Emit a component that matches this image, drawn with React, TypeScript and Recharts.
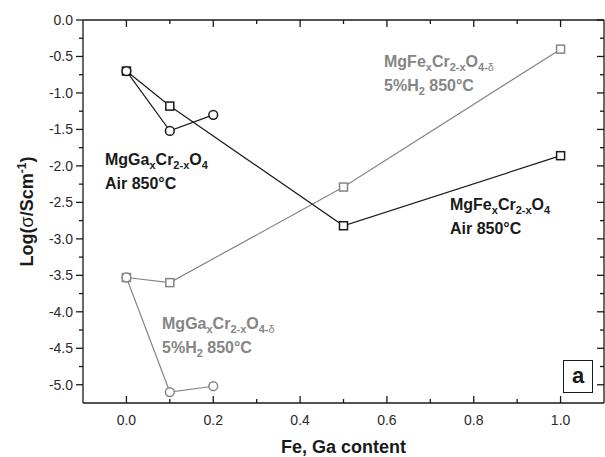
import React from 'react';
import { LineChart, Line, XAxis, YAxis, ReferenceDot } from 'recharts';

// Fe / Ga content on x, log conductivity on y
const feAirX = [0, 0.1, 0.5, 1.0];
const feAirY = [-0.7, -1.18, -2.82, -1.86];
const gaAirX = [0, 0.1, 0.2];
const gaAirY = [-0.7, -1.52, -1.3];
const feH2X = [0, 0.1, 0.5, 1.0];
const feH2Y = [-3.53, -3.6, -2.29, -0.4];
const gaH2X = [0, 0.1, 0.2];
const gaH2Y = [-3.53, -5.1, -5.02];

const xTicks = [0, 0.1, 0.2, 0.3, 0.4, 0.5, 0.6, 0.7, 0.8, 0.9, 1.0];
const yTicks = [0, -0.25, -0.5, -0.75, -1.0, -1.25, -1.5, -1.75, -2.0, -2.25, -2.5, -2.75, -3.0, -3.25, -3.5, -3.75, -4.0, -4.25, -4.5, -4.75, -5.0];

const BLACK = '#1a1a1a';
const GRAY = '#858585';
const FONT = '"Liberation Sans", Arial, sans-serif';

const zip = (xs: number[], ys: number[]) => xs.map((x, i) => ({ x, y: ys[i] }));

const feAir = zip(feAirX, feAirY);
const gaAir = zip(gaAirX, gaAirY);
const feH2 = zip(feH2X, feH2Y);
const gaH2 = zip(gaH2X, gaH2Y);

const isMajor = (v: number) => Math.round(Math.abs(v) * 100) % 50 === 0;
const isMajorX = (v: number) => Math.round(v * 10) % 2 === 0;

const BottomTick = ({ x, y, payload }: any) => {
    const major = isMajorX(payload.value);
    return (
        <g>
            <line x1={x} x2={x} y1={y} y2={y - (major ? 7 : 4)} stroke={BLACK} strokeWidth={1.3} />
            {major && (
                <text x={x} y={y + 22} textAnchor="middle" fontSize={14} fontFamily={FONT} fill="#2a2a2a">
                    {payload.value.toFixed(1)}
                </text>
            )}
        </g>
    );
};

const TopTick = ({ x, y, payload }: any) => {
    const major = isMajorX(payload.value);
    return <line x1={x} x2={x} y1={y} y2={y + (major ? 7 : 4)} stroke={BLACK} strokeWidth={1.3} />;
};

const LeftTick = ({ x, y, payload }: any) => {
    const major = isMajor(payload.value);
    return (
        <g>
            <line x1={x} x2={x - (major ? 7 : 4)} y1={y} y2={y} stroke={BLACK} strokeWidth={1.3} />
            {major && (
                <text x={x - 10} y={y + 5} textAnchor="end" fontSize={14} fontFamily={FONT} fill="#2a2a2a">
                    {payload.value.toFixed(1)}
                </text>
            )}
        </g>
    );
};

const RightTick = ({ x, y, payload }: any) => {
    const major = isMajor(payload.value);
    return <line x1={x} x2={x - (major ? 7 : 4)} y1={y} y2={y} stroke={BLACK} strokeWidth={1.3} />;
};

const squareDot = (color: string) => (p: any) => (
    <rect key={`s-${p.index}`} x={p.cx - 4} y={p.cy - 4} width={8} height={8} fill="#fff" stroke={color} strokeWidth={1.5} />
);
const circleDot = (color: string) => (p: any) => (
    <circle key={`c-${p.index}`} cx={p.cx} cy={p.cy} r={4.4} fill="#fff" stroke={color} strokeWidth={1.5} />
);

// two-line formula annotation, tied to a data position (left edge, first baseline)
const formulaLabel = (metal: string, delta: boolean, line2: React.ReactNode, color: string) => ({ viewBox }: any) => {
    const x = viewBox.x;
    const y = viewBox.y;
    const sub = { fontSize: 11 };
    return (
        <g fontFamily={FONT} fontWeight="bold" fill={color}>
            <text x={x} y={y} fontSize={16}>
                <tspan>Mg{metal}</tspan>
                <tspan dy={4} {...sub}>x</tspan>
                <tspan dy={-4}>Cr</tspan>
                <tspan dy={4} {...sub}>2-x</tspan>
                <tspan dy={-4}>O</tspan>
                <tspan dy={4} {...sub}>{delta ? '4-' : '4'}</tspan>
                {delta && <tspan {...sub} fontWeight="normal">δ</tspan>}
            </text>
            <text x={x} y={y + 24} fontSize={16}>
                {line2}
            </text>
        </g>
    );
};

const airLine = <tspan>Air 850°C</tspan>;
const h2Line = (
    <>
        <tspan>5%H</tspan>
        <tspan dy={4} fontSize={11}>2</tspan>
        <tspan dy={-4}> 850°C</tspan>
    </>
);

const YTitle = ({ viewBox }: any) => {
    const cy = viewBox.y + viewBox.height / 2;
    return (
        <text x={33} y={cy} transform={`rotate(-90 33 ${cy})`} textAnchor="middle" fontFamily={FONT} fontWeight="bold" fontSize={18} fill={BLACK}>
            <tspan>Log(</tspan>
            <tspan fontWeight="normal">σ</tspan>
            <tspan>/Scm</tspan>
            <tspan dy={-7} fontSize={12}>-1</tspan>
            <tspan dy={7}>)</tspan>
        </text>
    );
};

const XTitle = ({ viewBox }: any) => (
    <text x={viewBox.x + viewBox.width / 2} y={viewBox.y + 50} textAnchor="middle" fontFamily={FONT} fontWeight="bold" fontSize={18} fill={BLACK}>
        Fe, Ga content
    </text>
);

export default function App() {
    return (
        <div style={{ position: 'absolute', left: 0, top: 0, width: 605, height: 457, background: '#fff' }}>
            <LineChart width={605} height={457} margin={{ top: 19, right: 0, bottom: 0, left: 0 }}>
                <XAxis
                    type="number"
                    dataKey="x"
                    domain={[-0.1, 1.1]}
                    allowDataOverflow
                    ticks={xTicks}
                    interval={0}
                    height={54}
                    tickSize={0}
                    tickMargin={0}
                    tickLine={false}
                    tick={<BottomTick />}
                    axisLine={{ stroke: BLACK, strokeWidth: 1.3 }}
                    label={<XTitle />}
                />
                <XAxis
                    xAxisId="top"
                    orientation="top"
                    type="number"
                    dataKey="x"
                    domain={[-0.1, 1.1]}
                    allowDataOverflow
                    ticks={xTicks}
                    interval={0}
                    height={1}
                    tickSize={0}
                    tickMargin={0}
                    tickLine={false}
                    tick={<TopTick />}
                    axisLine={{ stroke: BLACK, strokeWidth: 1.3 }}
                />
                <YAxis
                    type="number"
                    domain={[-5.25, 0]}
                    allowDataOverflow
                    ticks={yTicks}
                    interval={0}
                    width={83}
                    tickSize={0}
                    tickMargin={0}
                    tickLine={false}
                    tick={<LeftTick />}
                    axisLine={{ stroke: BLACK, strokeWidth: 1.3 }}
                    label={<YTitle />}
                />
                <YAxis
                    yAxisId="right"
                    orientation="right"
                    type="number"
                    domain={[-5.25, 0]}
                    allowDataOverflow
                    ticks={yTicks}
                    interval={0}
                    width={1}
                    tickSize={0}
                    tickMargin={0}
                    tickLine={false}
                    tick={<RightTick />}
                    axisLine={{ stroke: BLACK, strokeWidth: 1.3 }}
                />
                <Line data={feH2} dataKey="y" stroke={GRAY} strokeWidth={1.2} dot={squareDot(GRAY)} isAnimationActive={false} />
                <Line data={gaH2} dataKey="y" stroke={GRAY} strokeWidth={1.2} dot={circleDot(GRAY)} isAnimationActive={false} />
                <Line data={feAir} dataKey="y" stroke={BLACK} strokeWidth={1.2} dot={squareDot(BLACK)} isAnimationActive={false} />
                <Line data={gaAir} dataKey="y" stroke={BLACK} strokeWidth={1.2} dot={circleDot(BLACK)} isAnimationActive={false} />
                <ReferenceDot x={-0.047} y={-2.0} r={1} fill="none" stroke="none" label={formulaLabel('Ga', false, airLine, BLACK)} />
                <ReferenceDot x={0.5956} y={-0.658} r={1} fill="none" stroke="none" label={formulaLabel('Fe', true, h2Line, GRAY)} />
                <ReferenceDot x={0.7476} y={-2.618} r={1} fill="none" stroke="none" label={formulaLabel('Fe', false, airLine, BLACK)} />
                <ReferenceDot x={0.0843} y={-4.25} r={1} fill="none" stroke="none" label={formulaLabel('Ga', true, h2Line, GRAY)} />
            </LineChart>
            <div
                style={{
                    position: 'absolute',
                    left: 563,
                    top: 360,
                    width: 30,
                    height: 33,
                    border: `1px solid ${BLACK}`,
                    background: '#fff',
                    boxSizing: 'border-box',
                    fontFamily: FONT,
                    fontWeight: 'bold',
                    fontSize: 22,
                    lineHeight: '30px',
                    textAlign: 'center',
                    color: BLACK,
                }}
            >
                a
            </div>
        </div>
    );
}
